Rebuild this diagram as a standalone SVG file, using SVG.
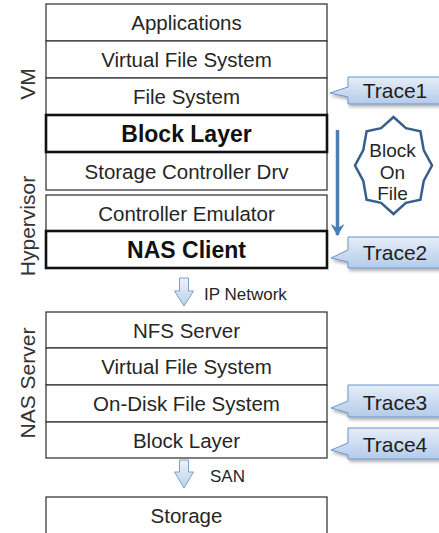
<svg xmlns="http://www.w3.org/2000/svg" width="439" height="533" viewBox="0 0 439 533">
  <style>
    .layer { fill: #ffffff; stroke: #3a3a3a; stroke-width: 1.3; }
    .layer-bold { fill: #ffffff; stroke: #111111; stroke-width: 2.6; }
    .lbl { font-family: "Liberation Sans", Arial, sans-serif; font-size: 20.5px; fill: #262626; text-anchor: middle; }
    .lbl-bold { font-family: "Liberation Sans", Arial, sans-serif; font-size: 23px; font-weight: bold; fill: #111111; text-anchor: middle; }
    .side { font-family: "Liberation Sans", Arial, sans-serif; font-size: 21px; fill: #333333; text-anchor: middle; }
    .note { font-family: "Liberation Sans", Arial, sans-serif; font-size: 17px; fill: #262626; }
    .callout { fill: url(#calloutFill); stroke: #6a94c8; stroke-width: 1; filter: url(#shadow); }
    .callout-text { font-family: "Liberation Sans", Arial, sans-serif; font-size: 21px; fill: #1e1e1e; text-anchor: middle; }
    .block-arrow { fill: url(#arrowFill); stroke: #7a9fce; stroke-width: 1; }
    .seal-text { font-family: "Liberation Sans", Arial, sans-serif; font-size: 19px; fill: #262626; text-anchor: middle; }
  </style>
  <defs>
    <linearGradient id="calloutFill" x1="0" y1="0" x2="0" y2="1">
      <stop offset="0" stop-color="#e6eef8"/>
      <stop offset="1" stop-color="#b3cbea"/>
    </linearGradient>
    <linearGradient id="arrowFill" x1="0" y1="0" x2="0" y2="1">
      <stop offset="0" stop-color="#eef3fa"/>
      <stop offset="1" stop-color="#bcd0ea"/>
    </linearGradient>
    <filter id="shadow" x="-10%" y="-20%" width="130%" height="160%">
      <feDropShadow dx="1.5" dy="2.5" stdDeviation="1.5" flood-color="#000000" flood-opacity="0.3"/>
    </filter>
    <marker id="flowHead" viewBox="0 0 12 14" refX="11" refY="7" markerWidth="12" markerHeight="14" markerUnits="userSpaceOnUse" orient="auto">
      <path d="M0,0 L12,7 L0,14 L4,7 Z" fill="#4a7ebb"/>
    </marker>
  </defs>

  <rect width="439" height="533" fill="#ffffff"/>

  <!-- side labels -->
  <text class="side" transform="translate(35,84) rotate(-90)">VM</text>
  <text class="side" transform="translate(35,226) rotate(-90)">Hypervisor</text>
  <text class="side" transform="translate(35,383) rotate(-90)">NAS Server</text>

  <!-- VM stack -->
  <g id="vm-applications">
    <rect class="layer" x="46" y="4" width="281" height="37"/>
    <text class="lbl" x="186.5" y="30">Applications</text>
  </g>
  <g id="vm-vfs">
    <rect class="layer" x="46" y="41" width="281" height="37"/>
    <text class="lbl" x="186.5" y="67">Virtual File System</text>
  </g>
  <g id="vm-fs">
    <rect class="layer" x="46" y="78" width="281" height="37"/>
    <text class="lbl" x="186.5" y="104">File System</text>
  </g>
  <g id="vm-storage-drv">
    <rect class="layer" x="46" y="152" width="281" height="38"/>
    <text class="lbl" x="186.5" y="178.5">Storage Controller Drv</text>
  </g>
  <g id="vm-block-layer">
    <rect class="layer-bold" x="46" y="115" width="281" height="37"/>
    <text class="lbl-bold" x="186.5" y="141.8">Block Layer</text>
  </g>

  <!-- Hypervisor stack -->
  <g id="hv-controller-emulator">
    <rect class="layer" x="46" y="195" width="281" height="36"/>
    <text class="lbl" x="186.5" y="220.5">Controller Emulator</text>
  </g>
  <g id="hv-nas-client">
    <rect class="layer-bold" x="46" y="231" width="281" height="37"/>
    <text class="lbl-bold" x="186.5" y="257.8">NAS Client</text>
  </g>

  <!-- NAS server stack -->
  <g id="nas-nfs-server">
    <rect class="layer" x="46" y="312" width="281" height="36"/>
    <text class="lbl" x="186.5" y="337.5">NFS Server</text>
  </g>
  <g id="nas-vfs">
    <rect class="layer" x="46" y="348" width="281" height="37"/>
    <text class="lbl" x="186.5" y="374">Virtual File System</text>
  </g>
  <g id="nas-ondisk-fs">
    <rect class="layer" x="46" y="385" width="281" height="37"/>
    <text class="lbl" x="186.5" y="411">On-Disk File System</text>
  </g>
  <g id="nas-block-layer">
    <rect class="layer" x="46" y="422" width="281" height="36"/>
    <text class="lbl" x="186.5" y="447.5">Block Layer</text>
  </g>

  <!-- storage -->
  <g id="storage">
    <rect class="layer" x="46" y="497" width="281" height="50"/>
    <text class="lbl" x="186.5" y="523">Storage</text>
  </g>

  <!-- connectors -->
  <g id="connectors">
    <path class="block-arrow" d="M179.5,278 H188.5 V291 H193.5 L184,306 L174.5,291 H179.5 Z"/>
    <text class="note" x="204" y="300">IP Network</text>
    <path class="block-arrow" d="M179.5,460 H188.5 V472 H193.5 L184,488 L174.5,472 H179.5 Z"/>
    <text class="note" x="210" y="482">SAN</text>
    <line x1="337.5" y1="130" x2="337.5" y2="235" stroke="#4a7ebb" stroke-width="3.5" marker-end="url(#flowHead)"/>
  </g>

  <!-- block-on-file seal (eight-point star) -->
  <g id="block-on-file">
    <polygon points="393.5,117 405.9,128.2 420.4,131.4 423.7,150.0 432,165.5 423.7,181.0 420.4,199.6 405.9,202.8 393.5,214 381.1,202.8 366.6,199.6 363.3,181.0 355,165.5 363.3,150.0 366.6,131.4 381.1,128.2" fill="#ffffff" stroke="#365f8f" stroke-width="2.5" stroke-linejoin="miter"/>
    <text class="seal-text" x="392.5" y="157">Block</text>
    <text class="seal-text" x="392.5" y="179">On</text>
    <text class="seal-text" x="392.5" y="199.5">File</text>
  </g>

  <!-- trace callouts -->
  <g id="trace1">
    <path class="callout" d="M348,77 H442 V104 H348 V97 L330,93 L348,87 Z"/>
    <text class="callout-text" x="395" y="98">Trace1</text>
  </g>
  <g id="trace2">
    <path class="callout" d="M348,237 H442 V268 H348 V262 L331,258 L348,250 Z"/>
    <text class="callout-text" x="395" y="260">Trace2</text>
  </g>
  <g id="trace3">
    <path class="callout" d="M348,385 H442 V417 H348 V413 L331,408 L348,401 Z"/>
    <text class="callout-text" x="395" y="410">Trace3</text>
  </g>
  <g id="trace4">
    <path class="callout" d="M348,428 H442 V459 H348 V455 L331,450 L348,443 Z"/>
    <text class="callout-text" x="395" y="452">Trace4</text>
  </g>
</svg>
